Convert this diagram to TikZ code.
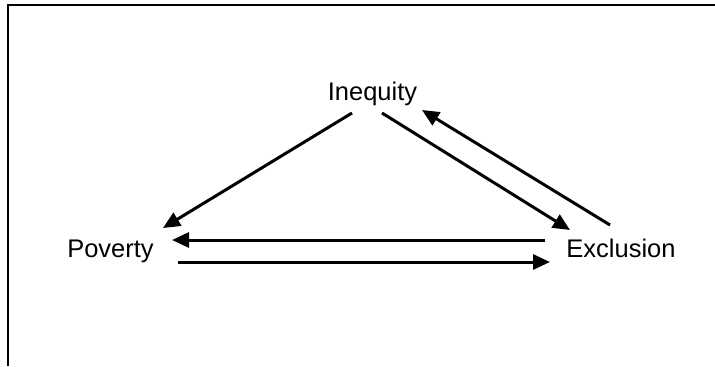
\documentclass[tikz,border=0pt]{standalone}
\usepackage{fontspec}
\setmainfont{Liberation Sans}
\usepackage{tikz}
\usetikzlibrary{arrows.meta, calc}
\definecolor{inkblack}{HTML}{000000}
\tikzset{
  term/.style={inner sep=0pt, anchor=base, font=\fontsize{14.5}{17}\selectfont, text=inkblack},
  flow/.style={-{Triangle[length=0.34cm, width=0.3cm]}, draw=inkblack, line width=1.7pt},
  frameline/.style={draw=inkblack, line width=1.2pt}
}
\begin{document}
\begin{tikzpicture}
\useasboundingbox (0,0) rectangle (14.3,7.32);
\draw[frameline] (0.16,0) -- (0.16,7.22) -- (14.3,7.22);
\node[term] (ineq) at (7.45,5.32) {Inequity};
\node[term] (pov) at (2.21,2.18) {Poverty};
\node[term] (excl) at (12.42,2.18) {Exclusion};
\draw[flow] ([shift={(-0.41,-0.26)}]ineq.base) -- ([shift={(1.05,0.58)}]pov.base);
\draw[flow] ([shift={(0.19,-0.26)}]ineq.base) -- ([shift={(-1.02,0.54)}]excl.base);
\draw[flow] ([shift={(-0.22,0.64)}]excl.base) -- ([shift={(0.99,-0.2)}]ineq.base);
\draw[flow] ([shift={(-1.52,0.34)}]excl.base) -- ([shift={(1.23,0.34)}]pov.base);
\draw[flow] ([shift={(1.35,-0.1)}]pov.base) -- ([shift={(-1.42,-0.1)}]excl.base);
\end{tikzpicture}
\end{document}
